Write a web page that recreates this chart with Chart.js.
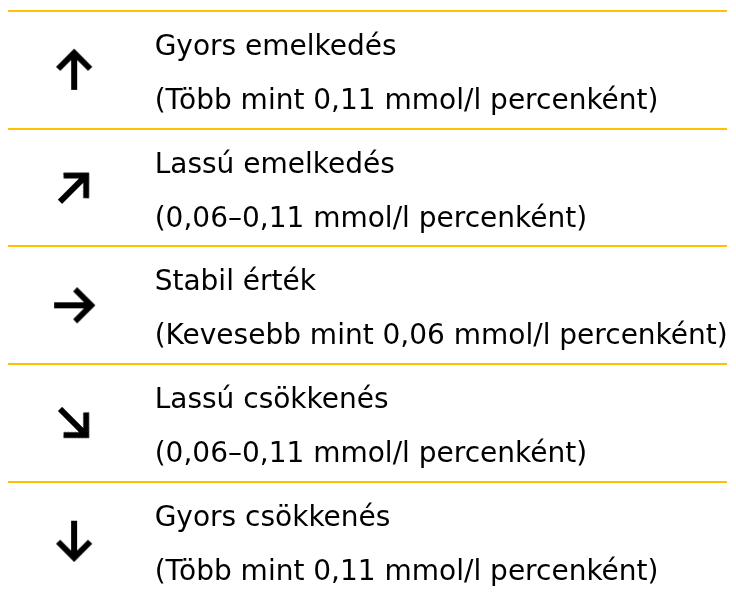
<!DOCTYPE html>
<html>
<head>
<meta charset="utf-8">
<script src="https://cdn.jsdelivr.net/npm/chart.js@4/dist/chart.umd.min.js"></script>
<style>
  html, body { margin: 0; padding: 0; background: #fff; }
  canvas { display: block; }
</style>
</head>
<body>
<canvas id="trendChart" width="736" height="599"></canvas>
<script>
// Trend arrow legend
const trends = ["Gyors emelkedés", "Lassú emelkedés", "Stabil érték", "Lassú csökkenés", "Gyors csökkenés"];
const rates = [
  "(Több mint 0,11 mmol/l percenként)",
  "(0,06–0,11 mmol/l percenként)",
  "(Kevesebb mint 0,06 mmol/l percenként)",
  "(0,06–0,11 mmol/l percenként)",
  "(Több mint 0,11 mmol/l percenként)",
];
// arrow direction, degrees clockwise from "up"
const arrowAngles = [0, 45, 90, 135, 180];
const rowIndex = [0, 1, 2, 3, 4];

const ICON_COL = 0.92;
const TEXT_COL = 2.04;
const LINE_COLOR = "#FFC000";
const FONT = '"DejaVu Sans", Verdana, sans-serif';
const FONT_SIZE = 28;

// up arrow, rotated per point by Chart.js
const makeArrow = () => {
  const c = document.createElement("canvas");
  c.width = 46;
  c.height = 46;
  const ctx = c.getContext("2d");
  ctx.strokeStyle = "#000";
  ctx.lineWidth = 6;
  ctx.lineCap = "butt";
  ctx.lineJoin = "miter";
  ctx.beginPath();
  ctx.moveTo(23, 43);
  ctx.lineTo(23, 7);
  ctx.stroke();
  ctx.beginPath();
  ctx.moveTo(7, 22);
  ctx.lineTo(23, 6);
  ctx.lineTo(39, 22);
  ctx.stroke();
  return c;
};
const arrowImg = makeArrow();

const rowText = {
  id: "rowText",
  afterDatasetsDraw(chart) {
    const { ctx, scales } = chart;
    const x = scales.x.getPixelForValue(TEXT_COL);
    ctx.save();
    ctx.fillStyle = "#000";
    ctx.font = FONT_SIZE + "px " + FONT;
    ctx.textAlign = "left";
    ctx.textBaseline = "alphabetic";
    rowIndex.forEach((r) => {
      const y = scales.y.getPixelForValue(r);
      ctx.fillText(trends[r], x, y - 15);
      ctx.fillText(rates[r], x, y + 39);
    });
    ctx.restore();
  },
};

new Chart(document.getElementById("trendChart"), {
  type: "scatter",
  data: {
    datasets: [
      {
        data: rowIndex.map((r) => ({ x: ICON_COL, y: r })),
        pointStyle: arrowImg,
        rotation: arrowAngles,
        showLine: false,
      },
    ],
  },
  options: {
    responsive: false,
    animation: false,
    layout: { padding: { left: 8, right: 9, top: 11, bottom: 0 } },
    plugins: { legend: { display: false }, tooltip: { enabled: false } },
    scales: {
      x: { type: "linear", min: 0, max: 10, display: false },
      y: {
        type: "linear",
        reverse: true,
        min: -0.5,
        max: 4.452,
        afterBuildTicks: (scale) => {
          scale.ticks = [-0.5, 0.5, 1.5, 2.5, 3.5].map((v) => ({ value: v }));
        },
        ticks: { display: false },
        border: { display: false },
        grid: { color: LINE_COLOR, lineWidth: 2, drawTicks: false },
      },
    },
  },
  plugins: [rowText],
});
</script>
</body>
</html>
